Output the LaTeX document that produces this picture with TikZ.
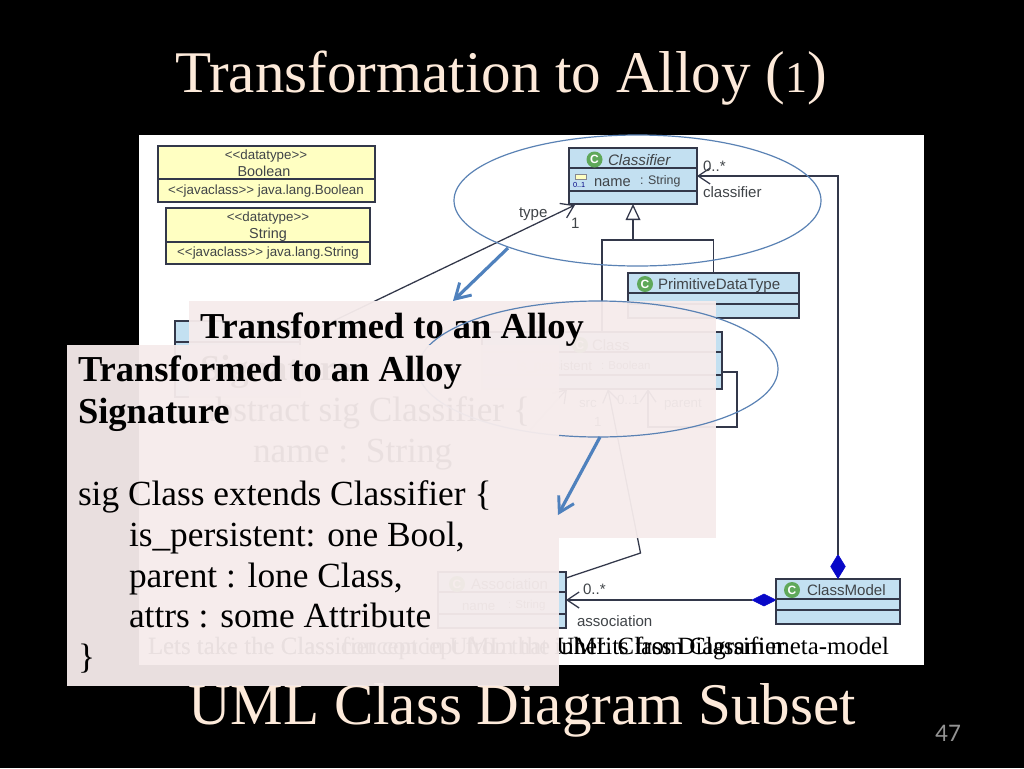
\documentclass[tikz,border=0pt]{standalone}
\usepackage{fontspec}
\setmainfont{Liberation Serif}
\newfontfamily\umlfont{Liberation Sans}
\newfontfamily\numfont{Carlito}
\usetikzlibrary{arrows.meta,shapes.geometric}
\definecolor{slidecream}{HTML}{FDEADA}
\definecolor{umlblue}{HTML}{C3E0F1}
\definecolor{umlyellow}{HTML}{FFFFC2}
\definecolor{umlline}{HTML}{33384A}
\definecolor{umltext}{HTML}{404448}
\definecolor{panelpink}{HTML}{F6ECEC}
\definecolor{accent}{HTML}{4F81BD}
\definecolor{ellipseline}{HTML}{5A82B4}
\definecolor{iconA}{HTML}{5FA85A}
\definecolor{compblue}{HTML}{0808C8}
\newcommand{\umlS}{\umlfont\fontsize{10}{12}\selectfont}
\newcommand{\umlM}{\umlfont\fontsize{11.3}{13}\selectfont}
\newcommand{\panelR}{\fontsize{26.5}{32}\selectfont}
\newcommand{\panelB}{\bfseries\fontsize{27.4}{32}\selectfont}
\tikzset{
  x=0.75pt,y=-0.75pt,
  txt/.style={anchor=base west,inner sep=0pt,outer sep=0pt,text=black},
  ctr/.style={anchor=base,inner sep=0pt,outer sep=0pt},
  umllabel/.style={anchor=base west,inner sep=0pt,outer sep=0pt,text=umltext,font=\umlS},
  umlctr/.style={anchor=base,inner sep=0pt,outer sep=0pt,text=umltext,font=\umlS},
  bluebox/.style={draw=umlline,fill=umlblue,line width=0.95pt,inner sep=0pt,outer sep=0pt},
  yellowbox/.style={draw=umlline,fill=umlyellow,line width=0.95pt,inner sep=0pt,outer sep=0pt},
  conn/.style={draw=umlline,line width=0.95pt},
  comp/.style={diamond,fill=compblue,draw=compblue,inner sep=0pt,outer sep=0pt},
  panel/.style={fill=panelpink,fill opacity=0.95,inner sep=0pt,outer sep=0pt},
  oval/.style={ellipse,draw=ellipseline,line width=0.9pt,inner sep=0pt,outer sep=0pt},
  bigarrow/.style={draw=accent,line width=2.4pt,-{Straight Barb[length=11pt,width=13pt,line width=2.2pt]}},
  openend/.style={-{Straight Barb[length=9pt,width=12pt]}},
  gicon/.style={circle,fill=iconA,text=white,inner sep=0pt,minimum size=12pt,font=\umlfont\bfseries\fontsize{9}{9}\selectfont},
}
\newcommand{\divline}[2]{\draw[conn] (#1.west |- 0,#2) -- (#1.east |- 0,#2);}
\begin{document}
\begin{tikzpicture}
\useasboundingbox (0,0) rectangle (1024,768);
\fill[black] (0,0) rectangle (1024,768);
\node[ctr,text=slidecream,font=\fontsize{44.3}{50}\selectfont] (title) at (501,92) {Transformation to Alloy ({\fontsize{33}{40}\selectfont 1})};
\node[ctr,text=slidecream,font=\fontsize{44.3}{50}\selectfont] (subtitle) at (522,724) {UML Class Diagram Subset};
\node[ctr,text=gray!85,font=\numfont\fontsize{19}{22}\selectfont] (pageno) at (948,741) {47};

% reference image
\fill[white] (139,135) rectangle (924,665);

% datatypes
\node[yellowbox,minimum width=217*0.75pt,minimum height=56*0.75pt] (bool) at (266.5,174) {};
\divline{bool}{179}
\node[umlctr] (boolS) at (266,159) {<{}<datatype>{}>};
\node[umlctr,font=\umlfont\fontsize{10.8}{12}\selectfont] (boolN) at (264,176) {Boolean};
\node[umlctr] (boolJ) at (266,194) {<{}<javaclass>{}> java.lang.Boolean};
\node[yellowbox,minimum width=204*0.75pt,minimum height=56*0.75pt] (str) at (268,236) {};
\divline{str}{242}
\node[umlctr] (strS) at (268,221) {<{}<datatype>{}>};
\node[umlctr,font=\umlfont\fontsize{10.8}{12}\selectfont] (strN) at (268,238) {String};
\node[umlctr] (strJ) at (268,256) {<{}<javaclass>{}> java.lang.String};

% classes
\node[bluebox,minimum width=125*0.75pt,minimum height=76*0.75pt] (typed) at (237.5,359) {};
\divline{typed}{342}
\node[bluebox,minimum width=128*0.75pt,minimum height=56*0.75pt] (classifier) at (633,176) {};
\divline{classifier}{168}
\divline{classifier}{191}
\node[gicon] (iconC) at (594.5,159.5) {C};
\node[umllabel,font=\umlfont\itshape\fontsize{11.4}{13}\selectfont] (classifierN) at (608,165) {Classifier};
\node[draw=umlline!60,fill=umlyellow,minimum width=8pt,minimum height=4pt,inner sep=0pt] (attrIcon) at (581,177) {};
\node[umllabel,text=blue!50!black,font=\umlfont\fontsize{5.5}{6}\selectfont] (attrMul) at (573,187) {0..1};
\node[umllabel,font=\umlfont\fontsize{11}{13}\selectfont] (classifierA) at (594,186) {name};
\node[umllabel,font=\umlfont\fontsize{9.3}{11}\selectfont] (classifierT) at (640,184) {: String};

\node[bluebox,minimum width=171*0.75pt,minimum height=45*0.75pt] (prim) at (713.5,295.5) {};
\divline{prim}{293}
\divline{prim}{304}
\node[gicon] (iconP) at (645,284) {C};
\node[umllabel,font=\umlM] (primN) at (658,289) {PrimitiveDataType};

\node[bluebox,minimum width=240*0.75pt,minimum height=57*0.75pt] (cls) at (602,360.5) {};
\divline{cls}{352}
\divline{cls}{375}
\node[gicon] (iconK) at (580,345) {C};
\node[umllabel,font=\umlM] (clsN) at (592,350) {Class};
\node[umllabel,anchor=base east] (clsA) at (592,370) {is\_persistent};
\node[umllabel,font=\umlfont\fontsize{8.6}{10}\selectfont] (clsT) at (601,369) {: Boolean};

\node[bluebox,minimum width=128*0.75pt,minimum height=56*0.75pt] (assoc) at (502,600) {};
\divline{assoc}{592}
\divline{assoc}{614}
\node[gicon] (iconS) at (457,584) {C};
\node[umllabel,font=\umlM] (assocN) at (471,589) {Association};
\node[umllabel] (assocA) at (462,610) {name};
\node[umllabel,font=\umlfont\fontsize{8.6}{10}\selectfont] (assocT) at (508,608) {: String};

\node[bluebox,minimum width=124*0.75pt,minimum height=45*0.75pt] (model) at (838,601.5) {};
\divline{model}{599}
\divline{model}{610}
\node[gicon] (iconM) at (792,590) {C};
\node[umllabel,font=\umlM] (modelN) at (807,595) {ClassModel};

\node[comp,minimum width=11pt,minimum height=18pt] (diaA) at (838,566.5) {};
\node[comp,minimum width=18pt,minimum height=9pt] (diaB) at (764,600) {};

% connectors
\coordinate (gen) at (633,240);
\coordinate (typeEnd) at (typed.east |- 0,337);
\coordinate (typeTip) at (575,205);
\coordinate (selfStart) at (cls.east |- 0,372);
\coordinate (selfCorner) at (737,427);
\coordinate (selfTip) at (648,389);
\coordinate (srcTip) at (608,389);
\coordinate (srcBend) at (640.5,553);
\coordinate (assocIn) at (566,578);
\coordinate (srcB) at (567,389);
\coordinate (srcC) at (530,430);

\draw[conn,-{Triangle[open,fill=white,length=12pt,width=11pt]}] (gen) -- (classifier.south);
\draw[conn] (cls.north) |- (gen);
\draw[conn] (gen) -| (prim.north);
\draw[conn,openend] (diaA.north) |- (classifier.east);
\draw[conn] (diaB.east) -- (model.west);
\draw[conn,openend] (diaB.west) -- (assoc.east);
\draw[conn,openend] (typeEnd) -- (typeTip);
\draw[conn,openend] (selfStart) -| (selfCorner) -| (selfTip);
\draw[conn,openend] (assocIn) -- (srcBend) -- (srcTip);
\draw[conn,openend] (srcC) -- (srcB);

\node[umllabel,font=\umlM] (lblType) at (519,217) {type};
\node[umllabel,font=\umlM] (lblOne) at (571,228) {1};
\node[umllabel,font=\umlM] (lblMul) at (703,171) {0..*};
\node[umllabel,font=\umlM] (lblCl) at (703,197) {classifier};
\node[umllabel] (lblSrc) at (579,407) {src};
\node[umllabel] (lblSrcOne) at (594,426) {1};
\node[umllabel] (lblZero) at (617,404) {0..1};
\node[umllabel] (lblParent) at (664,407) {parent};
\node[umllabel,font=\umlM] (lblAMul) at (583,594) {0..*};
\node[umllabel,font=\umlM] (lblAssoc) at (577,626) {association};

% captions of the image
\node[txt,font=\fontsize{18.6}{22}\selectfont] (capA) at (148,654) {Lets take the Classifier concept from the UML Class Diagram meta-model};
\node[txt,font=\fontsize{18.6}{22}\selectfont] (capB) at (148,654) {Lets take the Class concept in UML that inherits from Classifier};

% ellipse one and its arrow
\node[oval,minimum width=367*0.75pt,minimum height=131*0.75pt] (ovalA) at (637.5,200.5) {};
\coordinate (arrAs) at (508,248);
\coordinate (arrAe) at (453,301);
\draw[bigarrow] (arrAs) -- (arrAe);

% first panel
\fill[panel] (189,301) rectangle (716,538);
\node[txt,font=\panelB] (pA1) at (200,338) {Transformed to an Alloy};
\node[txt,font=\panelB] (pA2) at (200,380) {Signature};
\node[txt,font=\panelR] (pA3) at (200,421) {abstract sig Classifier \{};
\node[txt,font=\panelR] (pA4) at (253,462) {name :\ \ String};

\node[oval,minimum width=360*0.75pt,minimum height=136*0.75pt] (ovalB) at (598,369) {};

% second panel
\fill[panel] (67,345) rectangle (559,686);
\node[txt,font=\panelB] (pB1) at (78,381) {Transformed to an Alloy};
\node[txt,font=\panelB] (pB2) at (78,423) {Signature};
\node[txt,font=\panelR] (pB3) at (78,505) {sig Class extends Classifier \{};
\node[txt,font=\panelR] (pB4) at (129,546) {is\_persistent: one Bool,};
\node[txt,font=\panelR] (pB5) at (129,587) {parent : lone Class,};
\node[txt,font=\panelR] (pB6) at (129,627) {attrs : some Attribute};
\node[txt,font=\panelR] (pB7) at (78,668) {\}};

\coordinate (arrBs) at (600,437);
\coordinate (arrBe) at (558,515);
\draw[bigarrow] (arrBs) -- (arrBe);
\end{tikzpicture}
\end{document}
